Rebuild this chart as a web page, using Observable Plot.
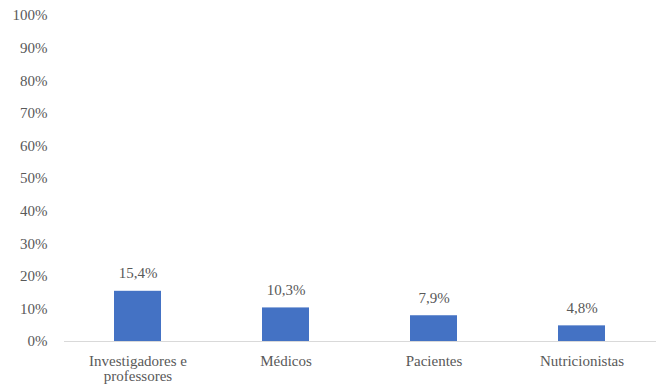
<!DOCTYPE html>
<html>
<head>
<meta charset="utf-8">
<script src="https://cdn.jsdelivr.net/npm/d3@7"></script>
<script src="https://cdn.jsdelivr.net/npm/@observablehq/plot@0.6"></script>
<style>
  body { margin: 0; background: #fff; }
</style>
</head>
<body>
<div id="chart"></div>
<script>
const categories = ["Investigadores e professores", "Médicos", "Pacientes", "Nutricionistas"];
const tickLabels = ["Investigadores e\nprofessores", "Médicos", "Pacientes", "Nutricionistas"];
const values = [0.154, 0.103, 0.079, 0.048];
const yTicks = [0, 0.1, 0.2, 0.3, 0.4, 0.5, 0.6, 0.7, 0.8, 0.9, 1.0];

const data = categories.map((c, i) => ({category: c, value: values[i]}));
const fmt = v => (v * 100).toFixed(1).replace(".", ",") + "%";
const serif = "'Liberation Serif', 'Times New Roman', Times, 'DejaVu Serif', serif";

const chart = Plot.plot({
  width: 656,
  height: 391,
  marginLeft: 64,
  marginRight: 0,
  marginTop: 15,
  marginBottom: 50,
  style: {fontSize: "15px", color: "#595959", background: "#fff"},
  x: {domain: categories, paddingInner: 0.68, paddingOuter: 0.34, label: null, tickSize: 0, tickPadding: 14,
      tickFormat: c => tickLabels[categories.indexOf(c)]},
  y: {domain: [0, 1], ticks: yTicks, tickFormat: v => Math.round(v * 100) + "%", label: null, tickSize: 0, tickPadding: 17},
  marks: [
    Plot.barY(data, {x: "category", y: "value", fill: "#4472C4"}),
    Plot.ruleY([0], {stroke: "#d9d9d9", strokeWidth: 1}),
    Plot.text(data, {x: "category", y: "value", text: d => fmt(d.value), dy: -18, fill: "#595959", fontSize: 15})
  ]
});
chart.setAttribute("font-family", serif);
chart.style.setProperty("font-family", serif, "important");
chart.querySelectorAll("g, text, tspan").forEach(el => {
  el.setAttribute("font-family", serif);
  el.style.setProperty("font-family", serif, "important");
});
document.getElementById("chart").appendChild(chart);
</script>
</body>
</html>
